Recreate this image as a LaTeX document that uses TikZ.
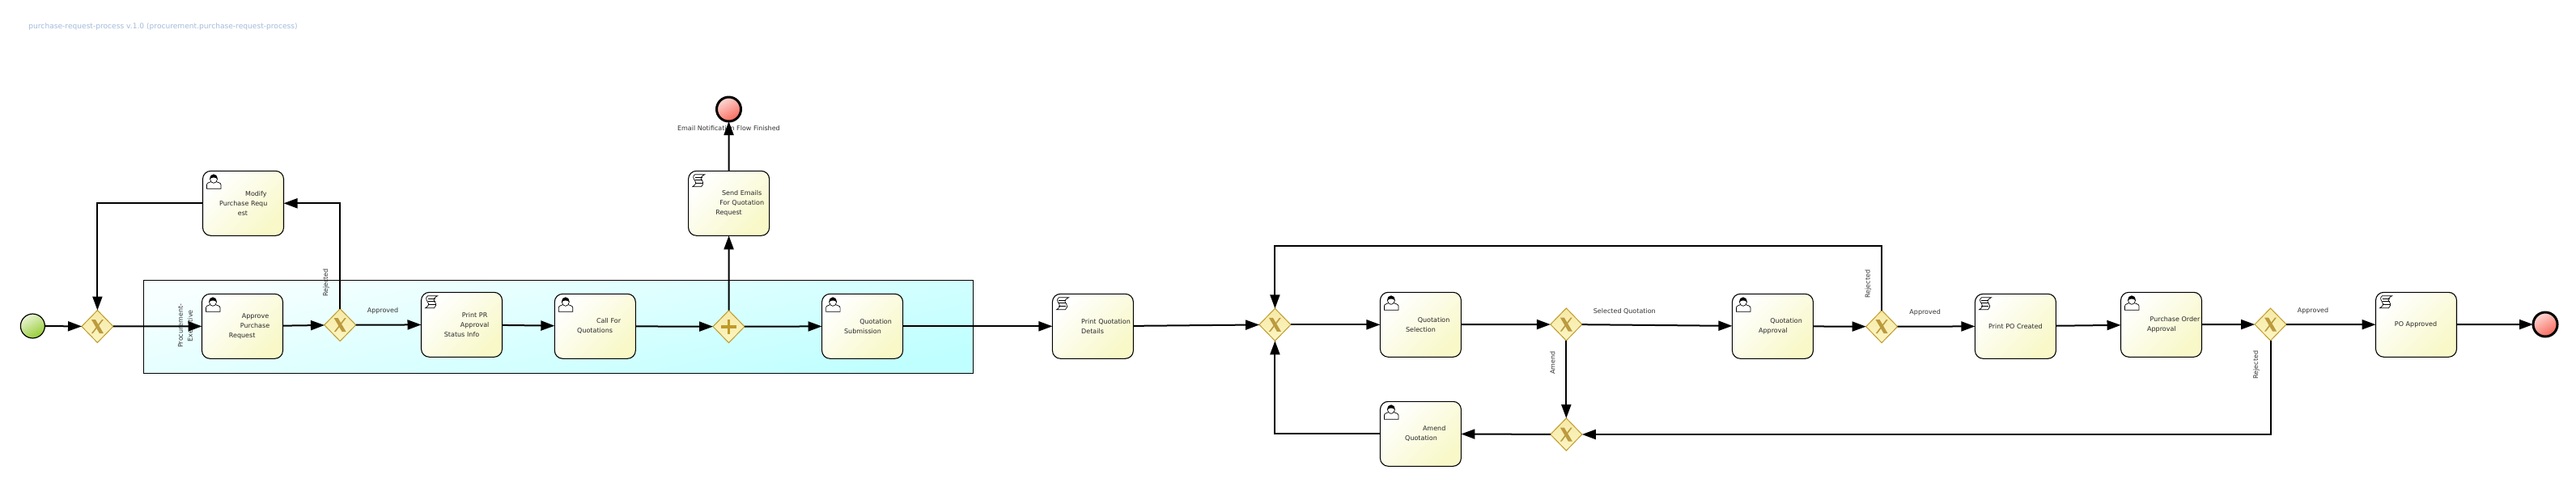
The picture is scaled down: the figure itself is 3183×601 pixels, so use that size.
\documentclass[tikz,border=0pt]{standalone}
\usepackage{fontspec}
\setmainfont{DejaVu Sans}
\usepackage{xcolor}
\usetikzlibrary{arrows.meta, shapes.geometric, calc}

\definecolor{taskyellow}{HTML}{F8F8C8}
\definecolor{gatebrown}{HTML}{C09A28}
\definecolor{gatemark}{HTML}{BC9A3E}
\definecolor{gatetop}{HTML}{F6E9A6}
\definecolor{gatebottom}{HTML}{FCF6C4}
\definecolor{titleblue}{HTML}{A4BBDA}
\definecolor{startgreen}{HTML}{96CC34}
\definecolor{endred}{HTML}{F8685A}

\newlength\pxunit
\setlength\pxunit{0.5pt}
\newcommand{\tline}[2]{\hspace*{#1\pxunit}#2}

\tikzset{
	flow/.style={line width=1pt, -{Triangle[length=8.5pt,width=6pt]}},
	tag/.style={font=\fontsize{4}{6}\selectfont, text=black!80, inner sep=0pt},
	task/.style={draw=black, line width=0.55pt, rounded corners=5pt, outer sep=0pt, inner sep=0pt,
		minimum width=50pt, minimum height=40pt, text width=50pt, align=left,
		top color=white, bottom color=taskyellow, shading angle=45,
		font=\fontsize{4}{6}\selectfont, text=black!85},
	gateway/.style={diamond, draw=gatebrown, line width=0.5pt, outer sep=0pt, inner sep=0pt,
		minimum width=19.5pt, minimum height=20pt, top color=gatetop, bottom color=gatebottom},
	startevent/.style={circle, draw=black, line width=0.6pt, minimum size=15pt, outer sep=0pt, inner sep=0pt,
		top color=startgreen!20!white, bottom color=startgreen, shading angle=30},
	endevent/.style={circle, draw=black, line width=1.5pt, minimum size=15pt, outer sep=0pt, inner sep=0pt,
		top color=endred!25!white, bottom color=endred, shading angle=30},
	pics/usericon/.style={code={
		\draw[fill=white, line width=0.35pt] (5,22) -- (5,17) .. controls (5,14.5) and (9,14) .. (11,13) -- (16,13) .. controls (18,14) and (22.5,14.5) .. (22.5,17) -- (22.5,22) -- cycle;
		\draw[fill=white, line width=0.35pt] (13.5,10) ellipse (4.5 and 5);
		\fill[black] (9,10) .. controls (8.5,2) and (18.5,2) .. (18,10) .. controls (16,7.5) and (11,7.5) .. (9,10) -- cycle;
	}},
	pics/scripticon/.style={code={
		\draw[fill=white, line width=0.35pt] (8,4.5) -- (20,4.5) .. controls (14,8) and (15,9) .. (17,12) .. controls (19,15) and (18,18) .. (16,19.5) -- (5,19.5) .. controls (9,17) and (10,15) .. (8,12) .. controls (6,9) and (5,6.5) .. (8,4.5) -- cycle;
		\foreach \yy in {8,11.5,15}
			\draw[line width=0.35pt] (8,\yy) -- (17,\yy);
	}},
	pics/xmark/.style={code={
		\fill[gatemark] (-7.5,-8.5) -- (-2.5,-8.5) -- (7.5,8.5) -- (2.5,8.5) -- cycle;
		\fill[gatemark] (5.5,-8.5) -- (7.5,-8.5) -- (-5.5,8.5) -- (-7.5,8.5) -- cycle;
	}},
}

\begin{document}
\begin{tikzpicture}[x=0.5pt, y=-0.5pt]
	\useasboundingbox (0,0) rectangle (3183,601);

	\node[tag, anchor=west, text=titleblue, font=\fontsize{4.55}{6}\selectfont] (title) at (35,33) {purchase-request-process v.1.0 (procurement.purchase-request-process)};

	% lane behind the first tasks
	\draw[black, line width=0.5pt, top color=cyan!3!white, bottom color=cyan!25!white, shading angle=12] (177.6,346.5) rectangle (1202.6,461);

	% labels lie under the arrows
	\node[tag, rotate=90, align=center] (lblExec) at (229,402.7) {Procurement-\\Executive};
	\node[tag, rotate=90] (lblRejA) at (403,349.5) {Rejected};
	\node[tag] (lblAppA) at (473,384) {Approved};
	\node[tag] (lblMail) at (900.4,159) {Email Notification Flow Finished};
	\node[tag] (lblSel) at (2007.3,384.7) {Selected Quotation};
	\node[tag, rotate=90] (lblAmend) at (1918.3,448.3) {Amend};
	\node[tag, rotate=90] (lblRejB) at (2308.4,351.2) {Rejected};
	\node[tag] (lblAppB) at (2378.6,386) {Approved};
	\node[tag, rotate=90] (lblRejC) at (2788,451) {Rejected};
	\node[tag] (lblAppC) at (2858,384) {Approved};

	\node[startevent] (start) at (40.4,403) {};
	\node[endevent] (mailEnd) at (900.5,135) {};
	\node[endevent] (stop) at (3145,401) {};

	\node[gateway] (gwMerge) at (120.4,403.5) {};
	\node[gateway] (gwApprove) at (420.2,401.7) {};
	\node[gateway] (gwFork) at (900.5,403.7) {};
	\node[gateway] (gwQuote) at (1575.4,401.3) {};
	\node[gateway] (gwSelect) at (1935.3,401) {};
	\node[gateway] (gwAmend) at (1935.3,537) {};
	\node[gateway] (gwQuoteOk) at (2325.1,403.7) {};
	\node[gateway] (gwPo) at (2805.5,401) {};

	\foreach \g in {gwMerge,gwApprove,gwQuote,gwSelect,gwAmend,gwQuoteOk,gwPo}
		\pic at (\g) {xmark};
	\draw[gatebrown, line width=1.9pt] ($(gwFork)+(-9.5,0)$) -- ($(gwFork)+(9.5,0)$) ($(gwFork)+(0,-9)$) -- ($(gwFork)+(0,9)$);

	\node[task] (modify) at (300.5,251.3) {\tline{52.6}{Modify}\\\tline{20.6}{Purchase Requ}\\\tline{43.4}{est}};
	\node[task] (approve) at (299.5,403.3) {\tline{49.4}{Approve}\\\tline{47.4}{Purchase}\\\tline{33.4}{Request}};
	\node[task] (printPR) at (570.5,401.3) {\tline{50.4}{Print PR}\\\tline{48.4}{Approval}\\\tline{28.4}{Status Info}};
	\node[task] (callFor) at (735.3,403.3) {\tline{51.7}{Call For}\\\tline{27.9}{Quotations}};
	\node[task] (submit) at (1065.6,403.3) {\tline{46.7}{Quotation}\\\tline{27.5}{Submission}};
	\node[task] (sendMail) at (900.6,251.3) {\tline{41.4}{Send Emails}\\\tline{38.7}{For Quotation}\\\tline{33.7}{Request}};
	\node[task] (printDetails) at (1350.4,403.3) {\tline{35.8}{Print Quotation}\\\tline{35.8}{Details}};
	\node[task] (select) at (1755.4,401.3) {\tline{46.4}{Quotation}\\\tline{31.6}{Selection}};
	\node[task] (amend) at (1755.4,536.3) {\tline{52.6}{Amend}\\\tline{30.8}{Quotation}};
	\node[task] (quoteApprove) at (2190.4,403.3) {\tline{46.9}{Quotation}\\\tline{32.7}{Approval}};
	\node[task] (printPO) at (2490.4,403.3) {\tline{16.8}{Print PO Created}};
	\node[task] (poApprove) at (2670.5,401.3) {\tline{36.1}{Purchase Order}\\\tline{32.6}{Approval}};
	\node[task] (poApproved) at (2985.5,401.3) {\tline{23.4}{PO Approved}};

	\foreach \t in {modify,approve,callFor,submit,select,amend,quoteApprove,poApprove}
		\pic at (\t.north west) {usericon};
	\foreach \t in {printPR,sendMail,printDetails,printPO,poApproved}
		\pic at (\t.north west) {scripticon};

	\coordinate (loopTop) at (1575.4,304);

	\draw[flow] (start) -- (gwMerge);
	\draw[flow] (gwMerge) -- (approve);
	\draw[flow] (approve) -- (gwApprove);
	\draw[flow] (gwApprove) |- (modify);
	\draw[flow] (modify) -| (gwMerge);
	\draw[flow] (gwApprove) -- (printPR);
	\draw[flow] (printPR) -- (callFor);
	\draw[flow] (callFor) -- (gwFork);
	\draw[flow] (gwFork) -- (submit);
	\draw[flow] (gwFork) -- (sendMail);
	\draw[flow] (sendMail) -- (mailEnd);
	\draw[flow] (submit) -- (printDetails);
	\draw[flow] (printDetails) -- (gwQuote);
	\draw[flow] (gwQuote) -- (select);
	\draw[flow] (select) -- (gwSelect);
	\draw[flow] (gwSelect) -- (quoteApprove);
	\draw[flow] (gwSelect) -- (gwAmend);
	\draw[flow] (quoteApprove) -- (gwQuoteOk);
	\draw[flow] (gwQuoteOk) |- (loopTop) -- (gwQuote);
	\draw[flow] (gwQuoteOk) -- (printPO);
	\draw[flow] (printPO) -- (poApprove);
	\draw[flow] (poApprove) -- (gwPo);
	\draw[flow] (gwPo) -- (poApproved);
	\draw[flow] (gwPo) |- (gwAmend);
	\draw[flow] (gwAmend) -- (amend);
	\draw[flow] (amend) -| (gwQuote);
	\draw[flow] (poApproved) -- (stop);
\end{tikzpicture}
\end{document}
